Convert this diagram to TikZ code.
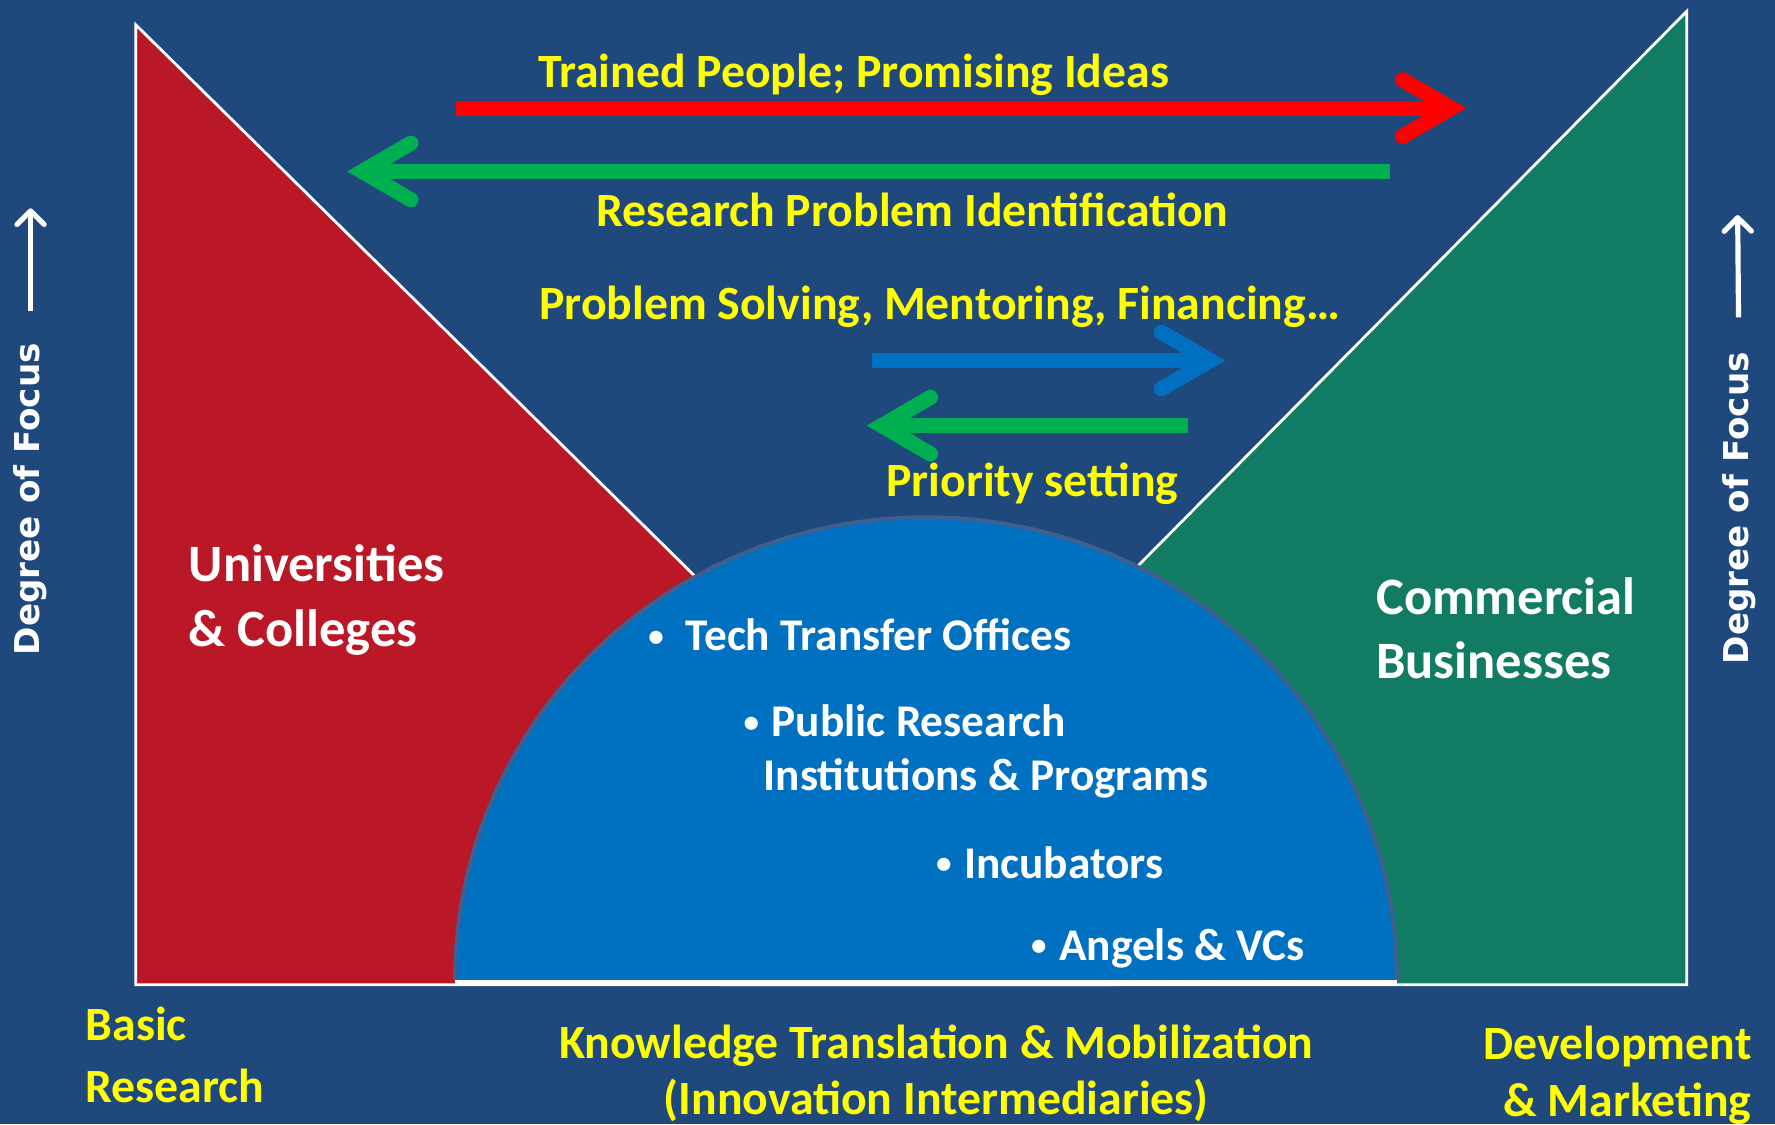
\documentclass[tikz,border=0pt]{standalone}
\usepackage{fontspec}
\setmainfont{Carlito}
\newfontfamily\focusfont{DejaVu Sans}
\usetikzlibrary{arrows.meta}

\definecolor{slide}{RGB}{31,73,125}
\definecolor{unired}{RGB}{186,23,39}
\definecolor{bizgreen}{RGB}{17,124,99}
\definecolor{midblue}{RGB}{0,112,192}
\definecolor{rim}{RGB}{63,96,142}
\definecolor{arrowred}{RGB}{255,0,0}
\definecolor{arrowgreen}{RGB}{0,176,80}
\definecolor{arrowblue}{RGB}{0,112,192}
\definecolor{flowyellow}{RGB}{255,255,0}

% small bullet for the dome list
\newcommand\itemdot{\makebox[0.498em]{\raisebox{1.2pt}{\fontsize{7.8}{8}\selectfont•}}}

\begin{document}
\begin{tikzpicture}
  [every node/.style={inner sep=0pt},
   flow/.style={text=flowyellow, font=\bfseries\fontsize{12}{14.2}\selectfont},
   stage/.style={text=flowyellow, font=\bfseries\fontsize{12}{14.2}\selectfont},
   sector/.style={text=white, align=left, font=\bfseries\fontsize{13.2}{16.2}\selectfont},
   item/.style={text=white, anchor=west, font=\bfseries\fontsize{11.4}{13}\selectfont},
   focus/.style={text=white, rotate=90, font=\focusfont\bfseries\fontsize{8.6}{10}\selectfont},
   bar/.style={line width=3.8pt},
   barb/.style={line width=3.8pt, line cap=round, line join=miter},
   up/.style={white, line width=1.3pt, -{Straight Barb[round, length=1.2mm, width=2.4mm]}}]

  \useasboundingbox (0,0) rectangle (15.68,9.93);
  \fill[slide] (0,0) rectangle (15.68,9.93);

  % the two sectors
  \filldraw[fill=unired, draw=white, line width=0.7pt] (1.20,9.71) -- (9.80,1.23) -- (1.20,1.23) -- cycle;
  \filldraw[fill=bizgreen, draw=white, line width=0.7pt] (14.90,9.83) -- (14.90,1.23) -- (6.39,1.23) -- cycle;

  % intermediaries dome
  \fill[midblue] (4.02,1.27) arc[start angle=180, end angle=0, x radius=4.16, y radius=4.09] -- cycle;
  \draw[rim, line width=1pt] (4.02,1.27) arc[start angle=180, end angle=0, x radius=4.16, y radius=4.09];
  \draw[white, line width=1.4pt] (4.02,1.245) -- (12.34,1.245);

  % flows between the sectors
  \coordinate (ideasS) at (4.03,8.975);
  \coordinate (ideasE) at (12.82,8.975);
  \coordinate (probS) at (12.28,8.415);
  \coordinate (probE) at (3.20,8.415);
  \coordinate (helpS) at (7.70,6.745);
  \coordinate (helpE) at (10.69,6.745);
  \coordinate (prioS) at (10.49,6.17);
  \coordinate (prioE) at (7.79,6.17);

  \foreach \s/\e/\c/\d in {ideasS/ideasE/arrowred/1, probS/probE/arrowgreen/-1,
                           helpS/helpE/arrowblue/1, prioS/prioE/arrowgreen/-1}
  {
    \draw[bar, \c, shorten >=2pt] (\s) -- (\e);
    \draw[barb, \c] (\e) ++(-0.43*\d,0.25) -- (\e) -- ++(-0.43*\d,-0.25);
  }

  \node[flow] (ideas) at (7.54,9.27) {Trained People; Promising Ideas};
  \node[flow] (probid) at (8.06,8.08) {Research Problem Identification};
  \node[flow] (help) at (8.30,7.22) {Problem Solving, Mentoring, Financing…};
  \node[flow] (prio) at (9.12,5.66) {Priority setting};

  \node[sector, anchor=west] (uni) at (1.66,4.63) {Universities\\\& Colleges};
  \node[sector, anchor=west] (biz) at (12.15,4.38) {Commercial\\Businesses};

  \node[item] (tto) at (5.69,4.32) {\itemdot\hspace{0.4em}Tech Transfer Offices};
  \node[item] (pub) at (6.53,3.56) {\itemdot\hspace{0.2em}Public Research};
  \node[item] (inst) at (6.74,3.05) {Institutions \& Programs};
  \node[item] (incub) at (8.23,2.31) {\itemdot\hspace{0.2em}Incubators};
  \node[item] (angel) at (9.07,1.55) {\itemdot\hspace{0.2em}Angels \& VCs};

  \node[stage, anchor=west, align=left, font=\bfseries\fontsize{12}{15.6}\selectfont] (basic) at (0.75,0.61) {Basic\\Research};
  \node[stage, align=center] (ktm) at (8.27,0.45) {Knowledge Translation \& Mobilization\\(Innovation Intermediaries)};
  \node[stage, anchor=east, align=right] (devm) at (15.48,0.43) {Development\\\& Marketing};

  % focus axes on both sides
  \node[focus] (focusL) at (0.27,5.52) {Degree of Focus};
  \node[focus] (focusR) at (15.36,5.44) {Degree of Focus};
  \coordinate (topL) at (0.27,8.09);
  \coordinate (topR) at (15.35,8.03);
  \draw[up, shorten <=0.28cm] (focusL.east) -- (topL);
  \draw[up, shorten <=0.30cm] (focusR.east) -- (topR);

\end{tikzpicture}
\end{document}
